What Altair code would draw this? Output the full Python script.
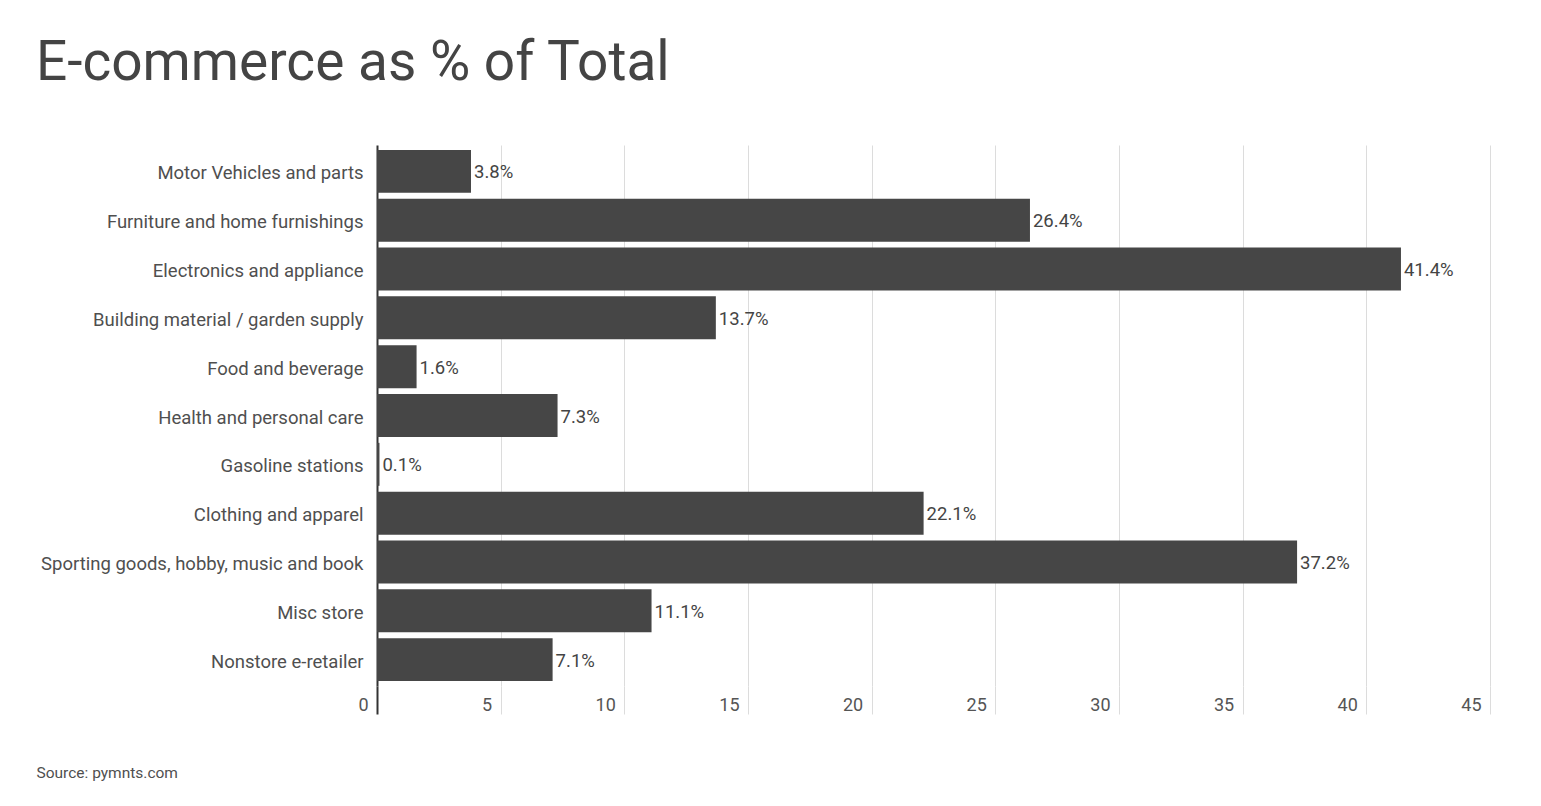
import pandas as pd
import altair as alt

categories = [
    "Motor Vehicles and parts",
    "Furniture and home furnishings",
    "Electronics and appliance",
    "Building material / garden supply",
    "Food and beverage",
    "Health and personal care",
    "Gasoline stations",
    "Clothing and apparel",
    "Sporting goods, hobby, music and book",
    "Misc store",
    "Nonstore e-retailer",
]
values = [3.8, 26.4, 41.4, 13.7, 1.6, 7.3, 0.1, 22.1, 37.2, 11.1, 7.1]
x_ticks = [0, 5, 10, 15, 20, 25, 30, 35, 40, 45]

df = pd.DataFrame({"category": categories, "value": values})
df["label"] = [f"{v:.1f}%" for v in values]

FONT = "Roboto"

y_enc = alt.Y(
    "category:N",
    sort=categories,
    scale=alt.Scale(paddingInner=0.12, paddingOuter=0.1),
    axis=alt.Axis(
        title=None,
        domain=False,
        ticks=False,
        labelPadding=14,
        labelOffset=2,
        labelFont=FONT,
        labelFontSize=18.5,
        labelFontWeight="normal",
        labelColor="#4f4f4f",
        labelLimit=400,
        minExtent=341,
        maxExtent=341,
    ),
)

x_enc = alt.X(
    "value:Q",
    scale=alt.Scale(domain=[0, 45], nice=False),
    axis=alt.Axis(
        values=x_ticks,
        title="Source: pymnts.com",
        titleFont=FONT,
        titleFontSize=15.5,
        titleFontWeight="normal",
        titleColor="#4f4f4f",
        titleAlign="left",
        titleAnchor="start",
        titleBaseline="middle",
        titleX=-341,
        titleY=86,
        domain=False,
        grid=True,
        gridColor={"expr": "datum.value === 0 ? '#333333' : '#dcdcdc'"},
        gridWidth={"expr": "datum.value === 0 ? 2 : 1"},
        tickColor={"expr": "datum.value === 0 ? '#333333' : '#dcdcdc'"},
        tickWidth={"expr": "datum.value === 0 ? 2 : 1"},
        tickSize=28,
        labelPadding=-18,
        labelAlign="right",
        labelOffset=-9,
        labelFont=FONT,
        labelFontSize=18,
        labelFontWeight="normal",
        labelColor="#555555",
    ),
)

bars = alt.Chart(df).mark_bar(color="#464646").encode(x=x_enc, y=y_enc)

text = alt.Chart(df).mark_text(
    align="left",
    baseline="middle",
    dx=3,
    dy=1,
    font=FONT,
    fontSize=18.5,
    fontWeight="normal",
    color="#444444",
).encode(x="value:Q", y=alt.Y("category:N", sort=categories), text="label:N")

chart = (
    alt.layer(bars, text)
    .properties(
        width=1113,
        height=541,
        padding={"left": 28, "top": 28, "right": 20, "bottom": 10},
        title=alt.TitleParams(
            "E-commerce as % of Total",
            anchor="start",
            frame="bounds",
            font=FONT,
            fontSize=55,
            fontWeight="normal",
            color="#444444",
            offset=53,
        ),
    )
    .configure_view(stroke=None)
)

chart.save("out.html", embed_options={"renderer": "svg", "actions": False})
